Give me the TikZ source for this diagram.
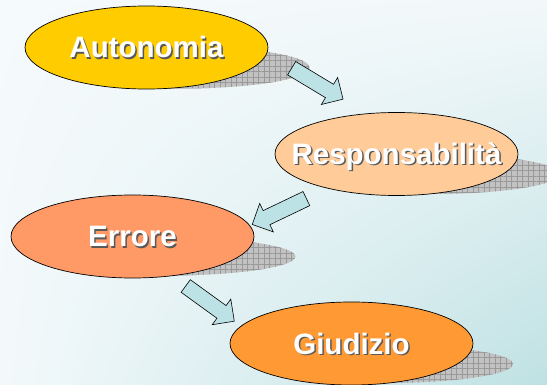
\documentclass[tikz,border=0pt]{standalone}
\usepackage{fontspec}
\setmainfont{Liberation Sans}
\usepackage{tikz}
\usetikzlibrary{shapes.geometric,shapes.arrows,patterns.meta,shadings}

\definecolor{paleUL}{HTML}{F5FAFC}
\definecolor{paleUR}{HTML}{F2F8FA}
\definecolor{paleLL}{HTML}{F3F9FB}
\definecolor{tealLR}{HTML}{BFE1E3}
\definecolor{arrowblue}{HTML}{BDE2E5}
\definecolor{gold}{HTML}{FFCC00}
\definecolor{peach}{HTML}{FFCC99}
\definecolor{salmon}{HTML}{FF9966}
\definecolor{tangerine}{HTML}{FF9933}

% white bold text with a dark drop shadow
\newcommand{\embossed}[1]{\makebox[0pt]{\rlap{\kern1.5pt\raisebox{-1.5pt}{\textcolor{black!65}{#1}}}\textcolor{white}{#1}}}

\tikzset{
  blob/.style={ellipse, draw=black, line width=0.7pt, minimum width=243pt,
    minimum height=83pt, inner sep=0pt, text height=21pt, text depth=0pt,
    font=\fontsize{29.5}{34}\selectfont\bfseries},
  floor/.style={preaction={fill=black!24},
    pattern={Hatch[angle=0,distance=5.5pt,line width=0.35pt]}, pattern color=black!40},
  fatarrow/.style={single arrow, draw=black, line width=0.6pt, fill=arrowblue,
    inner sep=7.5pt, minimum height=60pt, single arrow head extend=8pt,
    midway, sloped, allow upside down}
}

\begin{document}
\begin{tikzpicture}[x=1pt,y=-1pt]
    \useasboundingbox (0,0) rectangle (547,385);
    \clip (0,0) rectangle (547,385);
    \shade[upper left=paleUL, upper right=paleUR, lower left=paleLL, lower right=tealLR]
        (0,0) rectangle (547,385);
    % shadows on the floor
    \fill[floor] (181.5,67.5) ellipse [x radius=128, y radius=21];
    \fill[floor] (431.5,174) ellipse [x radius=128, y radius=20];
    \fill[floor] (167.5,256.5) ellipse [x radius=128, y radius=19];
    \fill[floor] (385,364) ellipse [x radius=128, y radius=19];
    % block arrows
    \coordinate (t1) at (288,66);
    \coordinate (h1) at (340,97.3);
    \coordinate (t2) at (309.7,197);
    \coordinate (h2) at (256,222.7);
    \coordinate (t3) at (182,283.3);
    \coordinate (h3) at (231.7,319.3);
    \path (t1) -- (h1) node[fatarrow] (ar1) {};
    \path (t2) -- (h2) node[fatarrow] (ar2) {};
    \path (t3) -- (h3) node[fatarrow] (ar3) {};
    % the four steps
    \node[blob, fill=gold] (autonomia) at (146.5,47.5) {\embossed{Autonomia}};
    \node[blob, fill=peach] (resp) at (396.5,154) {\embossed{Responsabilità}};
    \node[blob, fill=salmon] (errore) at (132.5,236.5) {\embossed{Errore}};
    \node[blob, fill=tangerine] (giudizio) at (351.5,343.5) {\embossed{Giudizio}};
\end{tikzpicture}
\end{document}
